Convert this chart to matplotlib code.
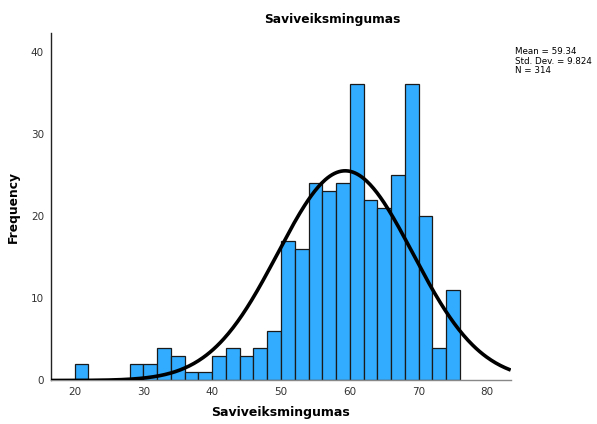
import numpy as np
import matplotlib
matplotlib.use("Agg")
import matplotlib.pyplot as plt

# histogram data: bin starts (width 2) and frequencies
bin_start = [20, 22, 24, 26, 28, 30, 32, 34, 36, 38, 40, 42, 44, 46,
             48, 50, 52, 54, 56, 58, 60, 62, 64, 66, 68, 70, 72, 74]
freq = [2, 0, 0, 0, 2, 2, 4, 3, 1, 1, 3, 4, 3, 4,
        6, 17, 16, 24, 23, 24, 36, 22, 21, 25, 36, 20, 4, 11]
bin_width = 2
mean = 59.34
std = 9.824
n = 314
xticks = [20, 30, 40, 50, 60, 70, 80]
yticks = [0, 10, 20, 30, 40]

plt.rcParams['font.family'] = ['DejaVu Sans']

fig = plt.figure(figsize=(5.97, 4.24), dpi=100)
ax = fig.add_axes([0.0854, 0.1026, 0.77, 0.8203])

ax.bar(bin_start, freq, width=bin_width, align='edge', color='#31acfe',
       edgecolor='#1a1a1a', linewidth=0.9, zorder=2)

# normal curve scaled to counts
xs = np.linspace(16.55, 83.4, 400)
ys = n * bin_width * np.exp(-0.5 * ((xs - mean) / std) ** 2) / (std * np.sqrt(2 * np.pi))
ax.plot(xs, ys, color='black', linewidth=2.6, zorder=3, solid_capstyle='butt')

ax.set_xlim(16.55, 83.4)
ax.set_ylim(0, 42.3)
ax.set_xticks(xticks)
ax.set_yticks(yticks)
ax.tick_params(length=0, pad=5, labelsize=7.5, colors='#333333')
for s in ['top', 'right']:
    ax.spines[s].set_visible(False)
ax.spines['left'].set_color('#222222')
ax.spines['bottom'].set_color('#888888')
ax.spines['left'].set_linewidth(1.0)
ax.spines['bottom'].set_linewidth(1.0)

ax.set_xlabel('Saviveiksmingumas', fontsize=9, fontweight='bold', labelpad=6)
ax.set_ylabel('Frequency', fontsize=8.8, fontweight='bold', labelpad=8)

fig.text(0.556, 0.955, 'Saviveiksmingumas', ha='center', va='center',
         fontsize=8.8, fontweight='bold')
fig.text(0.862, 0.888, 'Mean = 59.34\nStd. Dev. = 9.824\nN = 314', ha='left', va='top',
         fontsize=6.3, linespacing=1.05)

fig.savefig('out.png', dpi=100)
